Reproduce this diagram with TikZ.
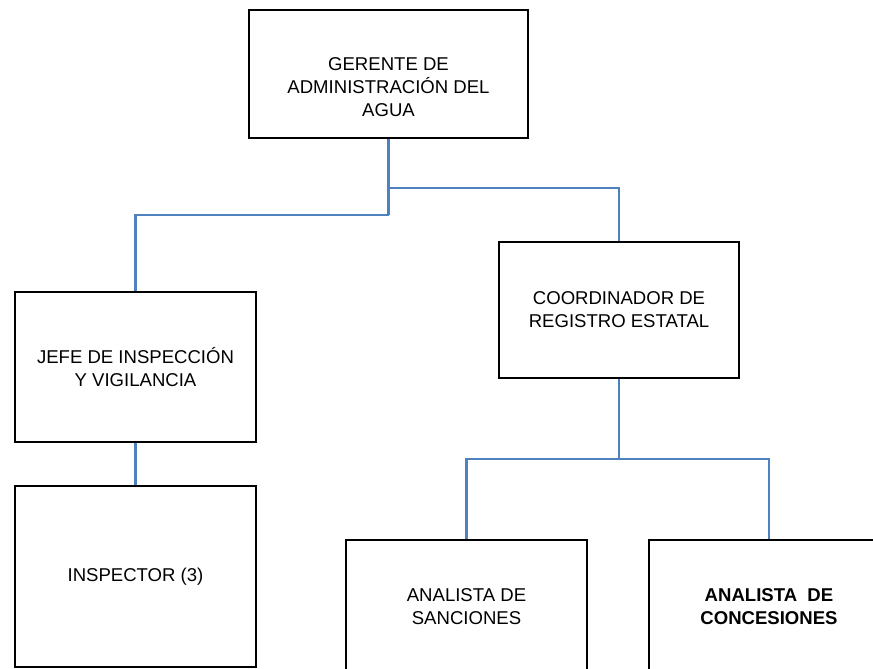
\documentclass[tikz,border=0pt]{standalone}
\usepackage{fontspec}
\setmainfont{Liberation Sans}
\usepackage{tikz}
\usetikzlibrary{shapes,arrows}
\definecolor{linkblue}{RGB}{79,129,189}

\begin{document}
\begin{tikzpicture}
\tikzstyle{every node}=[font=\fontsize{13.2}{16.4}\selectfont]
\tikzstyle{puesto}=[draw, line width=1.2pt, rectangle, align=center, inner sep=0pt]
\tikzstyle{enlace}=[draw=linkblue, line width=1.8pt]
\useasboundingbox (0,0) rectangle (21.825,16.7);
\clip (0,0) rectangle (21.825,16.7);
\node [puesto, minimum width=6.975cm, minimum height=3.2cm] (ger) at (9.7125,14.85) {\strut\\GERENTE DE\\ADMINISTRACIÓN DEL\\AGUA};
\node [puesto, minimum width=6.025cm, minimum height=3.75cm] (jefe) at (3.3875,7.525) {JEFE DE INSPECCIÓN\\Y VIGILANCIA};
\node [puesto, minimum width=6.025cm, minimum height=4.525cm] (insp) at (3.3875,2.2875) {INSPECTOR (3)};
\node [puesto, minimum width=6cm, minimum height=3.4cm] (coord) at (15.475,8.95) {COORDINADOR DE\\REGISTRO ESTATAL};
\node [puesto, minimum width=6.025cm, minimum height=3.35cm] (sanc) at (11.6625,1.525) {ANALISTA DE\\SANCIONES};
\node [puesto, minimum width=6cm, minimum height=3.35cm, font=\fontsize{13.2}{16.4}\selectfont\bfseries] (conc) at (19.225,1.525) {ANALISTA\ \ DE\\CONCESIONES};
\coordinate (g1) at (9.7125,12);
\coordinate (g2) at (9.7125,11.325);
\coordinate (c1) at (15.475,5.225);
\draw [enlace] (ger.south) -- (g2);
\draw [enlace] (g1) -| (coord.north);
\draw [enlace] (g2) -| (jefe.north);
\draw [enlace] (jefe.south) -- (insp.north);
\draw [enlace] (coord.south) -- (c1);
\draw [enlace] (c1) -| (sanc.north);
\draw [enlace] (c1) -| (conc.north);
\end{tikzpicture}
\end{document}
